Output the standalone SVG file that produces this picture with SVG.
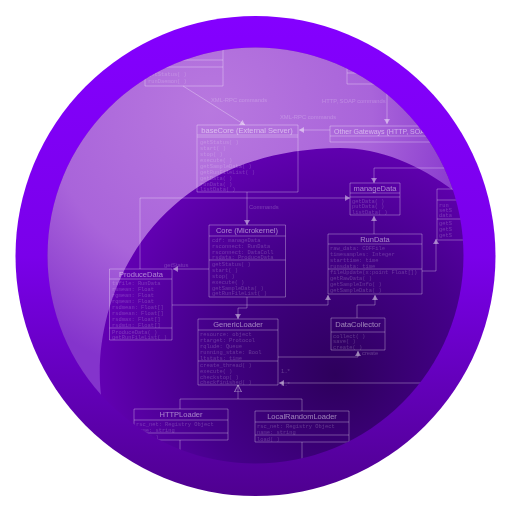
<svg xmlns="http://www.w3.org/2000/svg" width="512" height="512" viewBox="0 0 512 512">
<style>
.b{fill:none;stroke:#fff;stroke-opacity:.3;stroke-width:1}
.c{fill:none;stroke:#fff;stroke-opacity:.3;stroke-width:1}
.t{font-family:"Liberation Sans",sans-serif;font-size:7.5px;fill:#fff;fill-opacity:.5;text-anchor:middle}
.a{font-family:"Liberation Mono",monospace;font-size:5.4px;fill:#fff;fill-opacity:.2}
.l{font-family:"Liberation Sans",sans-serif;font-size:5.8px;fill:#fff;fill-opacity:.22}
</style>
<defs>
<linearGradient id="ring" x1="0" y1="0" x2="0" y2="1"><stop offset="0" stop-color="#8400ff"/><stop offset=".5" stop-color="#7a00ea"/><stop offset="1" stop-color="#4f0090"/></linearGradient>
<radialGradient id="disc" gradientUnits="userSpaceOnUse" cx="335" cy="375" r="270"><stop offset="0" stop-color="#2d005c"/><stop offset=".5" stop-color="#45008a"/><stop offset="1" stop-color="#6c00c0"/></radialGradient>
<radialGradient id="gloss" gradientUnits="userSpaceOnUse" cx="210" cy="110" r="270"><stop offset="0" stop-color="#b878df"/><stop offset=".6" stop-color="#a964da"/><stop offset="1" stop-color="#8434cc"/></radialGradient>
<clipPath id="inner"><circle cx="255.500" cy="255.500" r="208"/></clipPath>
<filter id="soft" x="-5%" y="-5%" width="110%" height="110%"><feGaussianBlur stdDeviation=".6"/></filter>
<marker id="ar" markerWidth="6" markerHeight="6" refX="5" refY="3" orient="auto"><path d="M0,0L5,3L0,6Z" fill="#fff" fill-opacity=".45"/></marker>
<marker id="tri" markerWidth="8" markerHeight="10" refX="7" refY="4" orient="auto"><path d="M0,.5L7,4L0,7.500Z" fill="none" stroke="#fff" stroke-opacity=".45"/></marker>
</defs>
<circle id="ring-disc" cx="255.500" cy="256" r="240" fill="url(#ring)"/>
<circle id="inner-disc" cx="255.500" cy="255.500" r="208" fill="url(#disc)"/>
<path id="gloss-shape" clip-path="url(#inner)" d="M101,395C90,300 150,150 340,148C380,148 420,165 454,191L480,40L40,40L40,395Z" fill="url(#gloss)"/>
<g clip-path="url(#inner)"><g filter="url(#soft)">
<g id="connectors">
<path class="c" marker-end="url(#ar)" d="M183,86L245,125"/>
<path class="c" marker-end="url(#ar)" d="M387,84V124"/>
<path class="c" marker-end="url(#ar)" d="M330,130H299"/>
<path class="c" marker-end="url(#ar)" d="M247,192V225"/>
<path class="c" marker-end="url(#ar)" d="M140,269V198H350"/>
<path class="c" marker-end="url(#ar)" d="M470,168H374V183"/>
<path class="c" marker-end="url(#ar)" d="M209,269H173"/>
<path class="c" marker-end="url(#ar)" d="M172,305H328V295"/>
<path class="c" marker-end="url(#ar)" d="M247,297V308H238V319"/>
<path class="c" marker-end="url(#ar)" d="M278,357H358V351"/>
<path class="c" marker-end="url(#ar)" d="M460,383H279"/>
<path class="c" marker-end="url(#ar)" d="M357,318V305H375V295"/>
<path class="c" marker-end="url(#ar)" d="M374,234V216"/>
<path class="c" marker-end="url(#ar)" d="M422,271H436V239"/>
<path class="c" marker-end="url(#tri)" d="M238,399V385"/>
<path class="c" d="M180,409V399H302V411M180,440V450M302,442V460"/>
<text class="l" x="211" y="102">XML-RPC commands</text>
<text class="l" x="280" y="119">XML-RPC commands</text>
<text class="l" x="322" y="103">HTTP, SOAP commands</text>
<text class="l" x="249" y="209">Commands</text>
<text class="l" x="164" y="267">getStatus</text>
<text class="l" x="281" y="373">1..*</text>
<text class="l" x="281" y="386">1..*</text>
<text class="l" x="362" y="355">create</text>
</g>
<g id="node-gateway"><path class="b" d="M145,30H223V86H145ZM145,60H223M145,67H223"/><text class="a" x="148" y="76">getStatus( )</text><text class="a" x="148" y="83">runDaemon( )</text></g>
<g id="node-other-top"><path class="b" d="M347,40H440V84H347ZM347,73H440"/></g>
<g id="node-basecore"><path class="b" d="M197,125H298V192H197ZM197,135H298M197,137H298"/><text class="t" x="247" y="133">baseCore (External Server)</text>
<text class="a" x="200" y="144">getStatus( )</text><text class="a" x="200" y="150">start( )</text><text class="a" x="200" y="156">stop( )</text><text class="a" x="200" y="162">execute( )</text><text class="a" x="200" y="168">getSampleData( )</text><text class="a" x="200" y="174">getRunFileList( )</text><text class="a" x="200" y="180">getData( )</text><text class="a" x="200" y="186">runData( )</text><text class="a" x="200" y="191">listData( )</text></g>
<g id="node-gateways"><path class="b" d="M330,126H440V142H330ZM330,136H440"/><text class="t" x="334" y="134" style="text-anchor:start;font-size:7px">Other Gateways (HTTP, SOAP)</text></g>
<g id="node-managedata"><path class="b" d="M350,183H400V215H350ZM350,193H400M350,197H400"/><text class="t" x="375" y="191">manageData</text><text class="a" x="352" y="203">getData( )</text><text class="a" x="352" y="208">putData( )</text><text class="a" x="352" y="214">listData( )</text></g>
<g id="node-right"><path class="b" d="M437,189H480V240H437ZM437,200H480M437,219H480"/><text class="a" x="439" y="207">run</text><text class="a" x="439" y="212">setS</text><text class="a" x="439" y="217">data</text><text class="a" x="439" y="225">getS</text><text class="a" x="439" y="231">getS</text><text class="a" x="439" y="237">getS</text></g>
<g id="node-core"><path class="b" d="M209,225H285.500V297H209ZM209,236H285.500M209,260H285.500"/><text class="t" x="247" y="233">Core (Microkernel)</text>
<text class="a" x="212" y="242">cdf: manageData</text><text class="a" x="212" y="248">rsconnect: RunData</text><text class="a" x="212" y="254">rsconnect: DataColl</text><text class="a" x="212" y="259">rsdata: ProduceData</text>
<text class="a" x="212" y="266">getStatus( )</text><text class="a" x="212" y="272">start( )</text><text class="a" x="212" y="278">stop( )</text><text class="a" x="212" y="284">execute( )</text><text class="a" x="212" y="290">getSampleData( )</text><text class="a" x="212" y="295">getRunFileList( )</text></g>
<g id="node-producedata"><path class="b" d="M109.500,269H172V340H109.500ZM109.500,279H172M109.500,328H172"/><text class="t" x="141" y="277">ProduceData</text>
<text class="a" x="112" y="285">tsfile: RunData</text><text class="a" x="112" y="291">rsmean: Float</text><text class="a" x="112" y="297">rgmean: Float</text><text class="a" x="112" y="303">rqmean: Float</text><text class="a" x="112" y="309">rsdmean: Float[]</text><text class="a" x="112" y="315">rsdmean: Float[]</text><text class="a" x="112" y="321">rsdmax: Float[]</text><text class="a" x="112" y="327">rsdmin: Float[]</text><text class="a" x="112" y="334">ProduceData( )</text><text class="a" x="112" y="339">getRunFileList( )</text></g>
<g id="node-rundata"><path class="b" d="M328,234H422V294H328ZM328,244H422M328,269H422"/><text class="t" x="375" y="242">RunData</text>
<text class="a" x="330" y="250">raw_data: CDFFile</text><text class="a" x="330" y="256">timesamples: Integer</text><text class="a" x="330" y="262">starttime: time</text><text class="a" x="330" y="268">runsdata: time</text><text class="a" x="330" y="274">fileUpdate(x:point Float[])</text><text class="a" x="330" y="280">getRawData( )</text><text class="a" x="330" y="286">getSampleInfo( )</text><text class="a" x="330" y="292">getSampleData( )</text></g>
<g id="node-datacollector"><path class="b" d="M331,318H385V350H331ZM331,332H385"/><text class="t" x="358" y="327">DataCollector</text><text class="a" x="333" y="338">collect( )</text><text class="a" x="333" y="343">save( )</text><text class="a" x="333" y="349">create( )</text></g>
<g id="node-genericloader"><path class="b" d="M198,319H278V385H198ZM198,330H278M198,361H278"/><text class="t" x="238" y="327">GenericLoader</text>
<text class="a" x="200" y="336">resource: object</text><text class="a" x="200" y="342">rtarget: Protocol</text><text class="a" x="200" y="348">rqlude: Queue</text><text class="a" x="200" y="354">running_state: Bool</text><text class="a" x="200" y="360">ltstats: time</text><text class="a" x="200" y="367">create_thread( )</text><text class="a" x="200" y="373">execute( )</text><text class="a" x="200" y="379">checkstop( )</text><text class="a" x="200" y="384">checkfinished( )</text></g>
<g id="node-httploader"><path class="b" d="M134,409H228V440H134ZM134,420H228M134,433H228"/><text class="t" x="181" y="417">HTTPLoader</text><text class="a" x="136" y="426">rsc_net: Registry Object</text><text class="a" x="136" y="432">name: string</text><text class="a" x="136" y="439">load( )</text></g>
<g id="node-localloader"><path class="b" d="M255,411H349V442H255ZM255,422H349M255,435H349"/><text class="t" x="302" y="419">LocalRandomLoader</text><text class="a" x="257" y="428">rsc_net: Registry Object</text><text class="a" x="257" y="434">name: string</text><text class="a" x="257" y="441">load( )</text></g>
</g></g>
</svg>
